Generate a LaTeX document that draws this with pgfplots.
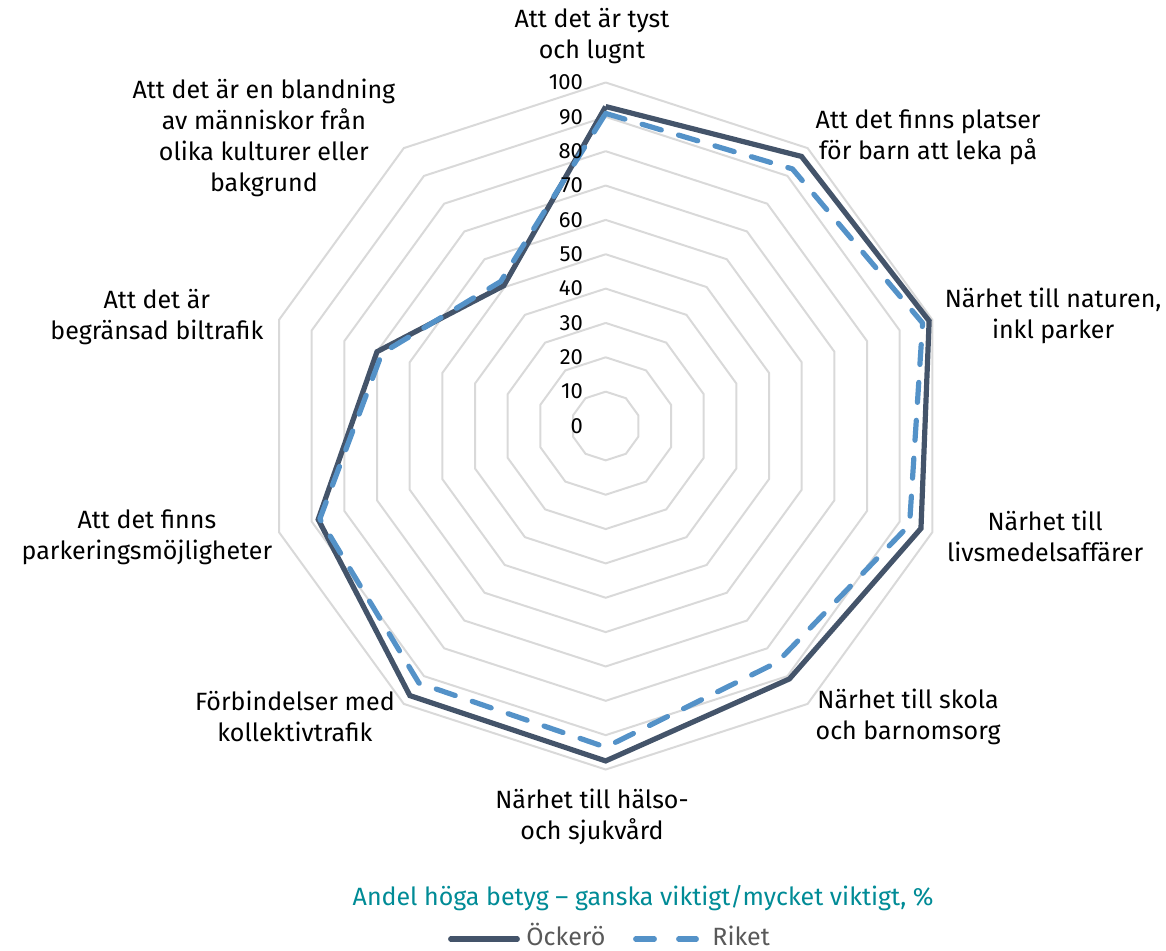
\documentclass[border=0pt]{standalone}
\usepackage{pgfplots}
\pgfplotsset{compat=1.18}
\usepackage{pgfplotstable}
\usepackage{fontspec}
\setmainfont{Fira Sans}
\definecolor{ock}{RGB}{68,84,106}
\definecolor{rik}{RGB}{84,146,200}
\definecolor{gridc}{RGB}{217,217,217}
\definecolor{titc}{RGB}{0,139,150}
\definecolor{legc}{RGB}{89,89,89}

\pgfplotstableread{
a r
90 93
54 97
18 99
-18 96.5
-54 91
-90 97.5
-126 97
-162 88
162 70
126 50.5
90 93
}\ockero
\pgfplotstableread{
a r
90 91
54 92.5
18 97
-18 93
-54 85
-90 93.5
-126 92.5
-162 87.5
162 68.5
126 52
90 91
}\riket
\pgfplotstableread{
a b
90 1
54 1
18 1
-18 1
-54 1
-90 1
-126 1
-162 1
162 1
126 1
90 1
}\angles

\begin{document}
\begin{tikzpicture}
\begin{axis}[
  hide axis,
  x=1.7175pt, y=1.7175pt,
  xmin=-100, xmax=100, ymin=-100, ymax=100,
  clip=false,
]
\pgfplotsinvokeforeach{10,20,...,100}{
  \addplot[gridc, line width=1pt, line join=miter] table[x expr={#1*cos(\thisrow{a})}, y expr={#1*sin(\thisrow{a})}] {\angles};
}
\addplot[ock, line width=2.6pt, line join=miter] table[x expr={\thisrow{r}*cos(\thisrow{a})}, y expr={\thisrow{r}*sin(\thisrow{a})}] {\ockero};
\addplot[rik, line width=2.6pt, dash pattern=on 10pt off 9pt, line cap=round, line join=round] table[x expr={\thisrow{r}*cos(\thisrow{a})}, y expr={\thisrow{r}*sin(\thisrow{a})}] {\riket};
\pgfplotsinvokeforeach{0,10,...,100}{
  \node[anchor=east, font=\fontsize{11}{13}\selectfont, inner sep=0pt] at (axis cs:-6.5,#1) {#1};
}
\coordinate (C) at (axis cs:0,0);
\end{axis}
\begin{scope}[every node/.style={align=center, font=\fontsize{12.5}{15.5}\selectfont, inner sep=0pt}]
\node at ([shift={(-6.85pt,195pt)}]C) {Att det är tyst\\och lugnt};
\node at ([shift={(161.2pt,144.5pt)}]C) {Att det finns platser\\för barn att leka på};
\node at ([shift={(223.7pt,55pt)}]C) {Närhet till naturen,\\inkl parker};
\node at ([shift={(219.7pt,-55pt)}]C) {Närhet till\\livsmedelsaffärer};
\node at ([shift={(151.2pt,-145.5pt)}]C) {Närhet till skola\\och barnomsorg};
\node at ([shift={(-6.85pt,-195.5pt)}]C) {Närhet till hälso-\\och sjukvård};
\node at ([shift={(-155.4pt,-145pt)}]C) {Förbindelser med\\kollektivtrafik};
\node at ([shift={(-229.4pt,-55.5pt)}]C) {Att det finns\\parkeringsmöjligheter};
\node at ([shift={(-224.4pt,54.5pt)}]C) {Att det är\\begränsad biltrafik};
\node at ([shift={(-170.9pt,144pt)}]C) {Att det är en blandning\\av människor från\\olika kulturer eller\\bakgrund};
\end{scope}
\node[anchor=base, font=\fontsize{12.5}{15}\selectfont, text=titc, inner sep=0pt] at ([shift={(18.7pt,-239.5pt)}]C) {Andel höga betyg – ganska viktigt/mycket viktigt, \%};
\draw[ock, line width=2.6pt, line cap=round] ([shift={(-77.5pt,-256.5pt)}]C) -- ([shift={(-44.2pt,-256.5pt)}]C);
\node[anchor=base west, text=legc, font=\fontsize{12.5}{15}\selectfont, inner sep=0pt] at ([shift={(-39.85pt,-259.8pt)}]C) {Öckerö};
\draw[rik, line width=2.6pt, line cap=round] ([shift={(15pt,-256.5pt)}]C) -- ([shift={(24.3pt,-256.5pt)}]C);
\draw[rik, line width=2.6pt, line cap=round] ([shift={(36.5pt,-256.5pt)}]C) -- ([shift={(45.3pt,-256.5pt)}]C);
\node[anchor=base west, text=legc, font=\fontsize{12.5}{15}\selectfont, inner sep=0pt] at ([shift={(53.15pt,-259.8pt)}]C) {Riket};
\pgfresetboundingbox
\path ([shift={(-302.85pt,213pt)}]C) rectangle ([shift={(280.15pt,-262pt)}]C);
\end{tikzpicture}
\end{document}
